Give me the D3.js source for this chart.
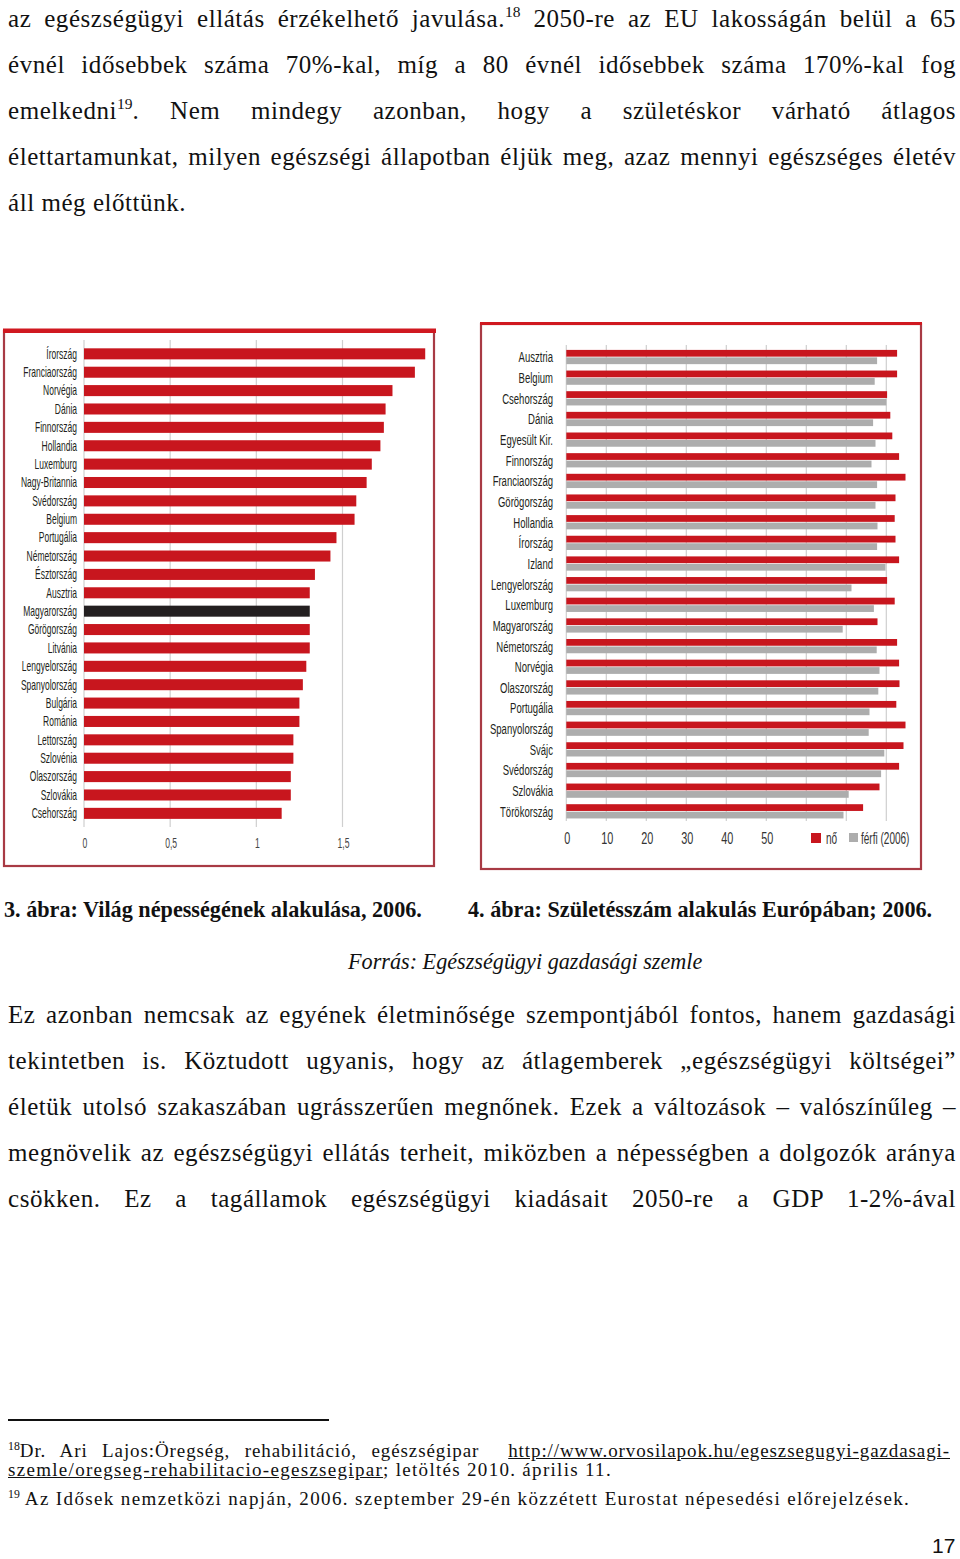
<!DOCTYPE html>
<html><head><meta charset="utf-8">
<script src="https://cdn.jsdelivr.net/npm/d3@7"></script>
<style>
body{margin:0;background:#fff;}
#page{position:relative;width:960px;height:1559px;overflow:hidden;background:#fff;}
.t{position:absolute;font-family:"Liberation Serif","Times New Roman",serif;white-space:nowrap;color:#111;}
.j{text-align:justify;text-align-last:justify;}
sup{font-size:62%;line-height:0;vertical-align:0.62em;letter-spacing:0;}
svg{position:absolute;left:0;top:0;}
</style></head><body><div id="page"></div>
<script>
// ---------------- DATA ----------------
const c1Countries = ["Írország","Franciaország","Norvégia","Dánia","Finnország","Hollandia","Luxemburg","Nagy-Britannia","Svédország","Belgium","Portugália","Németország","Észtország","Ausztria","Magyarország","Görögország","Litvánia","Lengyelország","Spanyolország","Bulgária","Románia","Lettország","Szlovénia","Olaszország","Szlovákia","Csehország"];
const c1Values = [1.98,1.92,1.79,1.75,1.74,1.72,1.67,1.64,1.58,1.57,1.465,1.43,1.34,1.31,1.31,1.31,1.31,1.29,1.27,1.25,1.25,1.215,1.215,1.20,1.20,1.147];
const c1Highlight = "Magyarország";
const c1Ticks = [0,0.5,1,1.5];
const c1TickLabels = ["0","0,5","1","1,5"];

const c2Countries = ["Ausztria","Belgium","Csehország","Dánia","Egyesült Kir.","Finnország","Franciaország","Görögország","Hollandia","Írország","Izland","Lengyelország","Luxemburg","Magyarország","Németország","Norvégia","Olaszország","Portugália","Spanyolország","Svájc","Svédország","Szlovákia","Törökország"];
const c2Female = [82.7,82.7,80.2,81.0,81.5,83.2,84.8,82.3,82.1,82.3,83.2,80.2,82.1,77.8,82.7,83.2,83.3,82.5,84.8,84.3,83.2,78.3,74.2];
const c2Male   = [77.7,77.1,80.0,76.7,77.3,76.3,77.7,77.3,77.8,77.7,79.8,71.3,76.9,69.1,77.6,78.3,78.0,75.8,75.6,79.5,78.7,70.6,69.3];
const c2Series = ["nő","férfi (2006)"];
const c2Grid = [0,10,20,30,40,50,60,70,80];
const c2TickLabels = ["0","10","20","30","40","50"];

const para1 = [
 "az egészségügyi ellátás érzékelhető javulása.<sup>18</sup> 2050-re az EU lakosságán belül a 65",
 "évnél idősebbek száma 70%-kal, míg a 80 évnél idősebbek száma 170%-kal fog",
 "emelkedni<sup>19</sup>. Nem mindegy azonban, hogy a születéskor várható átlagos",
 "élettartamunkat, milyen egészségi állapotban éljük meg, azaz mennyi egészséges életév",
 "áll még előttünk."
];
const para2 = [
 "Ez azonban nemcsak az egyének életminősége szempontjából fontos, hanem gazdasági",
 "tekintetben is. Köztudott ugyanis, hogy az átlagemberek „egészségügyi költségei”",
 "életük utolsó szakaszában ugrásszerűen megnőnek. Ezek a változások – valószínűleg –",
 "megnövelik az egészségügyi ellátás terheit, miközben a népességben a dolgozók aránya",
 "csökken. Ez a tagállamok egészségügyi kiadásait 2050-re a GDP 1-2%-ával"
];
const caption1 = "3. ábra: Világ népességének alakulása, 2006.";
const caption2 = "4. ábra: Születésszám alakulás Európában; 2006.";
const source = "Forrás: Egészségügyi gazdasági szemle";
const foot18a = "<sup>18</sup>Dr. Ari Lajos:Öregség, rehabilitáció, egészségipar&nbsp; <u>http://www.orvosilapok.hu/egeszsegugyi-gazdasagi-</u>";
const foot18b = "<u>szemle/oregseg-rehabilitacio-egeszsegipar</u>; letöltés 2010. április 11.";
const foot19 = "<sup>19</sup> Az Idősek nemzetközi napján, 2006. szeptember 29-én közzétett Eurostat népesedési előrejelzések.";
const pageNum = "17";

// ---------------- TEXT ----------------
const page = d3.select("#page");
function line(html, left, baseline, size, opts={}){
  const d = page.append("div").attr("class","t"+(opts.justify?" j":""))
    .style("left",left+"px").style("font-size",size+"px").style("line-height",size+"px")
    .style("top",(baseline-0.8375*size)+"px").html(html);
  if(opts.weight) d.style("font-weight",opts.weight);
  if(opts.italic) d.style("font-style","italic");
  if(opts.family) d.style("font-family",opts.family);
  if(opts.width) d.style("width",opts.width+"px");
  if(opts.ls) d.style("letter-spacing",opts.ls+"px");
  return d;
}
const bodySize = 25, bodyLS = 0.55;
para1.forEach((h,i)=>line(h,8,27+i*46,bodySize,{justify:i<4,width:948,ls:bodyLS}));
para2.forEach((h,i)=>line(h,8,1023+i*46,bodySize,{justify:true,width:948,ls:bodyLS}));
line(caption1,4,918,22.2,{weight:"bold"});
line(caption2,468,918,22.2,{weight:"bold"});
line(source,348,970,22.2,{italic:true});
line(foot18a,8,1457,19,{justify:true,width:942,ls:0.9});
line(foot18b,8,1476,19,{ls:1.3});
line(foot19,8,1505,19,{ls:1.37});
line(pageNum,932,1553,21,{family:"'Liberation Sans',Arial,sans-serif"});
page.append("div").style("position","absolute").style("left","8px").style("top","1419px")
  .style("width","321px").style("height","2px").style("background","#111");

// ---------------- CHARTS ----------------
function hasFont(f){const c=document.createElement("canvas").getContext("2d");c.font="40px monospace";const a=c.measureText("Franciaország").width;c.font="40px '"+f+"', monospace";return c.measureText("Franciaország").width!==a;}
const narrow = hasFont("Liberation Sans Narrow");
const cf = narrow ? "'Liberation Sans Narrow'" : "'Liberation Sans'";
const cs = narrow ? 1 : 0.82;
function ctext(g, x, y, txt, size, sx, anchor, fill){
  return g.append("text").attr("transform","translate("+x+","+y+") scale("+(sx*cs)+",1)")
   .attr("text-anchor",anchor).attr("dominant-baseline","central")
   .style("font-family",cf).style("font-size",size+"px").attr("fill",fill||"#231f20").text(txt);
}
const svg = page.append("svg").attr("width",960).attr("height",1559);
const RED="#c8161e", FRAME="#a83a44", GRAY="#adadad", GRID="#cfcfcf";

// Chart 1
const g1 = svg.append("g");
g1.append("rect").attr("x",4).attr("y",331).attr("width",430).attr("height",535).attr("fill","none").attr("stroke",FRAME).attr("stroke-width",2.2);
g1.append("rect").attr("x",3).attr("y",328.5).attr("width",433).attr("height",4.5).attr("fill","#d01820");
const x1 = d3.scaleLinear().domain([0,1.5]).range([84,342.5]);
const y1 = d3.scaleBand().domain(c1Countries).range([344.65,822.55]).paddingInner(0.4).paddingOuter(0.2);
g1.selectAll("line.grid").data(c1Ticks).join("line").attr("class","grid")
  .attr("x1",d=>x1(d)).attr("x2",d=>x1(d)).attr("y1",340).attr("y2",827).attr("stroke",GRID).attr("stroke-width",1.2);
g1.selectAll("rect.bar").data(c1Countries).join("rect").attr("class","bar")
  .attr("x",x1(0)).attr("y",d=>y1(d)).attr("height",y1.bandwidth())
  .attr("width",(d,i)=>x1(c1Values[i])-x1(0)).attr("fill",d=>d===c1Highlight?"#231f20":RED);
c1Countries.forEach(c=>ctext(g1,77,y1(c)+y1.bandwidth()/2,c,14,0.74,"end"));
c1Ticks.forEach((t,i)=>ctext(g1,x1(t)+1,843,c1TickLabels[i],14,0.75,"middle","#444"));

// Chart 2
const g2 = svg.append("g");
g2.append("rect").attr("x",481).attr("y",324).attr("width",440).attr("height",545).attr("fill","none").attr("stroke",FRAME).attr("stroke-width",2.2);
g2.append("rect").attr("x",480).attr("y",322).attr("width",442).attr("height",3).attr("fill","#d01820");
const x2 = d3.scaleLinear().domain([0,80]).range([566.3,886.3]);
const y2 = d3.scaleBand().domain(c2Countries).range([346.7,821.65]).paddingInner(0.31).paddingOuter(0.155);
const s2 = d3.scaleBand().domain(c2Series).range([0,y2.bandwidth()]).paddingInner(0.1);
g2.selectAll("line.grid").data(c2Grid).join("line").attr("class","grid")
  .attr("x1",d=>x2(d)).attr("x2",d=>x2(d)).attr("y1",345).attr("y2",821).attr("stroke",GRID).attr("stroke-width",1.2);
const vals = [c2Female,c2Male], cols=[RED,GRAY];
c2Series.forEach((s,si)=>{
  g2.selectAll("rect.s"+si).data(c2Countries).join("rect").attr("class","s"+si)
    .attr("x",x2(0)).attr("y",d=>y2(d)+s2(s)).attr("height",s2.bandwidth())
    .attr("width",(d,i)=>x2(vals[si][i])-x2(0)).attr("fill",cols[si]);
});
c2Countries.forEach(c=>ctext(g2,553,y2(c)+y2.bandwidth()/2,c,15.5,0.75,"end"));
c2TickLabels.forEach((t,i)=>ctext(g2,x2(+t)+1,838,t,17,0.78,"middle","#333"));
// legend
g2.append("rect").attr("x",811).attr("y",833).attr("width",10).attr("height",10).attr("fill",cols[0]);
ctext(g2,826,837.5,c2Series[0],17,0.72,"start","#333");
g2.append("rect").attr("x",849).attr("y",833).attr("width",9).attr("height",9).attr("fill",cols[1]);
ctext(g2,861,837.5,c2Series[1],17,0.72,"start","#333");
</script>
</body></html>
